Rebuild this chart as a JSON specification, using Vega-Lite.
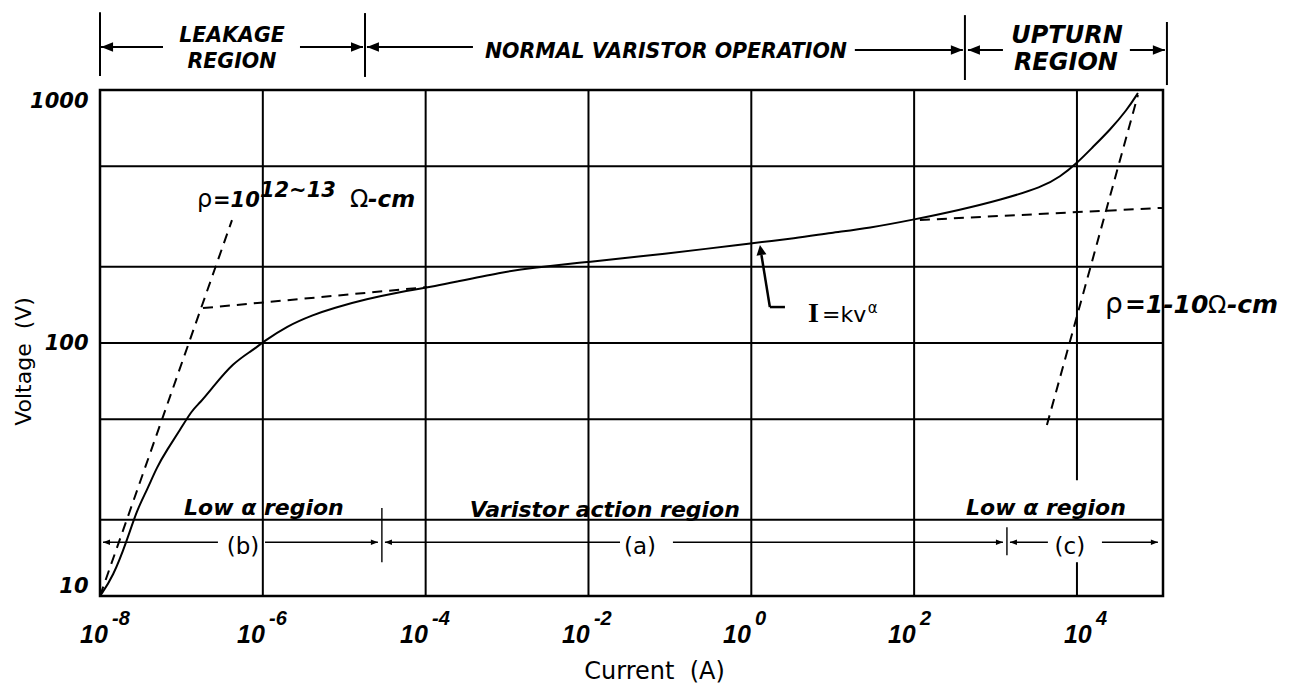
{
  "$schema": "https://vega.github.io/schema/vega-lite/v6.json",
  "width": 1063,
  "height": 506,
  "autosize": {"type": "none"},
  "padding": {"left": 100, "top": 90, "right": 140, "bottom": 88},
  "background": "white",
  "config": {
    "view": {"stroke": "black", "strokeWidth": 2.5},
    "mark": {"color": "black"},
    "font": "DejaVu Sans",
    "axis": {"grid": false, "ticks": false, "domain": false}
  },
  "datasets": {
    "curve": [
      {"I": 1e-8, "V": 10}, {"I": 1.445e-8, "V": 11.9}, {"I": 2.148e-8, "V": 16.6}, {"I": 2.844e-8, "V": 21.9},
      {"I": 3.776e-8, "V": 26.2}, {"I": 5.012e-8, "V": 32.4}, {"I": 6.653e-8, "V": 37.8}, {"I": 9.616e-8, "V": 45.3},
      {"I": 1.349e-7, "V": 54.3}, {"I": 1.69e-7, "V": 57.9}, {"I": 2.443e-7, "V": 67.0}, {"I": 4.295e-7, "V": 83.4},
      {"I": 7.568e-7, "V": 93.8}, {"I": 1.005e-6, "V": 100.9}, {"I": 1.982e-6, "V": 116.7},
      {"I": 4.13e-6, "V": 129.1}, {"I": 7.278e-6, "V": 137.4}, {"I": 1.901e-5, "V": 149.3}, {"I": 4.842e-5, "V": 159.1},
      {"I": 1.5e-4, "V": 169.4}, {"I": 1.991e-4, "V": 172.6}, {"I": 8.913e-4, "V": 190.9}, {"I": 1.91e-3, "V": 197.8},
      {"I": 9.057e-3, "V": 208.7}, {"I": 3.936e-2, "V": 218.8}, {"I": 0.338, "V": 237.3}, {"I": 0.836, "V": 246.1},
      {"I": 3.639, "V": 260.0}, {"I": 9.247, "V": 272.3}, {"I": 28.64, "V": 285.1}, {"I": 93.97, "V": 306.3},
      {"I": 365.6, "V": 335.8}, {"I": 1132, "V": 367.3}, {"I": 3819, "V": 414.2}, {"I": 6180, "V": 453.3},
      {"I": 10000, "V": 513.7}, {"I": 15700, "V": 595.6}, {"I": 25410, "V": 695.1}, {"I": 41110, "V": 833.5},
      {"I": 56100, "V": 973}
    ],
    "dashed": [
      {"seg": "A", "I": 1e-8, "V": 10}, {"seg": "A", "I": 4.18e-7, "V": 306},
      {"seg": "B", "I": 1.841e-7, "V": 137.4}, {"seg": "B", "I": 1.038e-4, "V": 166.3},
      {"seg": "C", "I": 117.8, "V": 306.3}, {"seg": "C", "I": 110700, "V": 342},
      {"seg": "D", "I": 4276, "V": 47.4}, {"seg": "D", "I": 56100, "V": 955}
    ],
    "gridV": [
      {"I": 1e-6, "v1": 10, "v2": 1000}, {"I": 1e-4, "v1": 10, "v2": 1000}, {"I": 0.01, "v1": 10, "v2": 1000},
      {"I": 1, "v1": 10, "v2": 1000}, {"I": 100, "v1": 10, "v2": 1000},
      {"I": 10000, "v1": 10, "v2": 13.6}, {"I": 10000, "v1": 28.7, "v2": 1000}
    ],
    "gridH": [{"V": 20}, {"V": 50}, {"V": 100}, {"V": 200}, {"V": 500}],
    "segTop": [
      {"I1": 1e-8, "I2": 5.94e-8, "V1": 1479, "V2": 1479},
      {"I1": 2.86e-6, "I2": 1.70e-5, "V1": 1479, "V2": 1479},
      {"I1": 1.90e-5, "I2": 3.81e-4, "V1": 1479, "V2": 1479},
      {"I1": 18.7, "I2": 397, "V1": 1439, "V2": 1439},
      {"I1": 458, "I2": 1233, "V1": 1439, "V2": 1439},
      {"I1": 44670, "I2": 120200, "V1": 1439, "V2": 1439},
      {"I1": 1e-8, "I2": 1e-8, "V1": 2031, "V2": 1136},
      {"I1": 1.80e-5, "I2": 1.80e-5, "V1": 2014, "V2": 1126},
      {"I1": 420.7, "I2": 420.7, "V1": 1977, "V2": 1095},
      {"I1": 127400, "I2": 127400, "V1": 1857, "V2": 1046}
    ],
    "headTop": [
      {"I": 1.03e-8, "V": 1479, "dir": "L"}, {"I": 1.70e-5, "V": 1479, "dir": "R"},
      {"I": 1.90e-5, "V": 1479, "dir": "L"}, {"I": 397, "V": 1439, "dir": "R"},
      {"I": 458, "V": 1439, "dir": "L"}, {"I": 120200, "V": 1439, "dir": "R"}
    ],
    "segBot": [
      {"I1": 1.089e-8, "I2": 2.81e-7, "V1": 16.3, "V2": 16.3},
      {"I1": 1.064e-6, "I2": 2.59e-5, "V1": 16.3, "V2": 16.3},
      {"I1": 3.16e-5, "I2": 0.0244, "V1": 16.3, "V2": 16.3},
      {"I1": 0.109, "I2": 1233, "V1": 16.3, "V2": 16.3},
      {"I1": 1503, "I2": 4397, "V1": 16.3, "V2": 16.3},
      {"I1": 20270, "I2": 98600, "V1": 16.3, "V2": 16.3},
      {"I1": 2.90e-5, "I2": 2.90e-5, "V1": 22.3, "V2": 13.6},
      {"I1": 1380, "I2": 1380, "V1": 18.7, "V2": 14.5}
    ],
    "headBot": [
      {"I": 1.089e-8, "V": 16.3, "dir": "L"}, {"I": 2.59e-5, "V": 16.3, "dir": "R"},
      {"I": 3.16e-5, "V": 16.3, "dir": "L"}, {"I": 1233, "V": 16.3, "dir": "R"},
      {"I": 1503, "V": 16.3, "dir": "L"}, {"I": 98600, "V": 16.3, "dir": "R"}
    ],
    "segKv": [
      {"I1": 2.59, "I2": 1.69, "V1": 138.7, "V2": 138.7},
      {"I1": 1.69, "I2": 1.332, "V1": 138.7, "V2": 222.8}
    ],
    "headKv": [{"I": 1.276, "V": 243.8, "dir": "U"}],
    "xticks": [
      {"lx": 5.68e-9, "e": "-8"}, {"lx": 4.82e-7, "e": "-6"}, {"lx": 4.84e-5, "e": "-4"},
      {"lx": 4.72e-3, "e": "-2"}, {"lx": 0.449, "e": "0"}, {"lx": 47.6, "e": "2"}, {"lx": 6918, "e": "4"}
    ],
    "topS": [
      {"t": "LEAKAGE", "I": 4.18e-7, "V": 1548},
      {"t": "REGION", "I": 4.18e-7, "V": 1222},
      {"t": "NORMAL VARISTOR OPERATION", "I": 0.0895, "V": 1338}
    ],
    "topL": [
      {"t": "UPTURN", "I": 7540, "V": 1535},
      {"t": "REGION", "I": 7313, "V": 1200}
    ],
    "regLab": [
      {"t": "Low α region", "I": 1.03e-6, "V": 20.9},
      {"t": "Varistor action region", "I": 0.0159, "V": 20.6},
      {"t": "Low α region", "I": 4160, "V": 20.9}
    ],
    "parenLab": [
      {"t": "(b)", "I": 5.70e-7, "V": 15.6},
      {"t": "(a)", "I": 0.0429, "V": 15.6},
      {"t": "(c)", "I": 8180, "V": 15.6}
    ],
    "fb21": [
      {"t": "=10", "I": 2.44e-7, "V": 344.8},
      {"t": "12~13", "I": 9.2e-7, "V": 377.6}
    ],
    "fb23": [{"t": "-cm", "I": 1.96e-5, "V": 344.8}],
    "fb25": [
      {"t": "=1-10", "I": 38810, "V": 131.6},
      {"t": "-cm", "I": 695000, "V": 131.6}
    ],
    "fn24": [
      {"t": "ρ", "I": 1.55e-7, "V": 344.8},
      {"t": "Ω", "I": 1.175e-5, "V": 344.8},
      {"t": "Ω", "I": 405700, "V": 131.6}
    ],
    "fn28": [{"t": "ρ", "I": 22030, "V": 131.6}],
    "fn22": [{"t": "=kv", "I": 7.38, "V": 121.1}],
    "fn15": [{"t": "α", "I": 27.0, "V": 131.6}],
    "fserif": [{"t": "I", "I": 4.97, "V": 121.1}]
  },
  "layer": [
    {
      "data": {"name": "curve"},
      "mark": {"type": "line", "strokeWidth": 2, "interpolate": "basis"},
      "encoding": {
        "x": {
          "field": "I", "type": "quantitative",
          "scale": {"type": "log", "domain": [1e-8, 114000], "nice": false},
          "axis": {
            "title": "Current\u00a0\u00a0(A)", "labels": false, "ticks": false, "domain": false, "grid": false,
            "titleFont": "DejaVu Sans", "titleFontSize": 24, "titleFontWeight": "normal", "titleColor": "black",
            "titleX": 554, "titleY": 82, "titleBaseline": "alphabetic", "titleAlign": "center"
          }
        },
        "y": {
          "field": "V", "type": "quantitative",
          "scale": {"type": "log", "domain": [10, 1000], "nice": false},
          "axis": {
            "title": "Voltage\u00a0\u00a0(V)", "values": [10, 100, 1000], "format": "d",
            "labelFont": "DejaVu Sans", "labelFontSize": 21, "labelFontWeight": "bold", "labelFontStyle": "italic",
            "labelColor": "black", "labelPadding": 12, "labelFlush": true,
            "ticks": false, "domain": false, "grid": false,
            "titleFont": "DejaVu Sans", "titleFontSize": 22, "titleFontWeight": "normal", "titleColor": "black",
            "titleX": -77, "titleY": 271, "titleAngle": 270, "titleAlign": "center", "titleBaseline": "middle"
          }
        }
      }
    },
    {
      "data": {"name": "gridV"},
      "mark": {"type": "rule", "strokeWidth": 2},
      "encoding": {
        "x": {"field": "I", "type": "quantitative", "scale": {"type": "log", "domain": [1e-8, 114000], "nice": false}},
        "y": {"field": "v1", "type": "quantitative", "scale": {"type": "log", "domain": [10, 1000], "nice": false}},
        "y2": {"field": "v2"}
      }
    },
    {
      "data": {"name": "gridH"},
      "mark": {"type": "rule", "strokeWidth": 2},
      "encoding": {
        "y": {"field": "V", "type": "quantitative", "scale": {"type": "log", "domain": [10, 1000], "nice": false}}
      }
    },
    {
      "data": {"name": "dashed"},
      "mark": {"type": "line", "strokeWidth": 2, "strokeDash": [10, 7]},
      "encoding": {
        "x": {"field": "I", "type": "quantitative", "scale": {"type": "log", "domain": [1e-8, 114000], "nice": false}},
        "y": {"field": "V", "type": "quantitative", "scale": {"type": "log", "domain": [10, 1000], "nice": false}},
        "detail": {"field": "seg"}
      }
    },
    {
      "data": {"name": "segTop"},
      "mark": {"type": "rule", "strokeWidth": 2},
      "encoding": {
        "x": {"field": "I1", "type": "quantitative", "scale": {"type": "log", "domain": [1e-8, 114000], "nice": false}},
        "x2": {"field": "I2"},
        "y": {"field": "V1", "type": "quantitative", "scale": {"type": "log", "domain": [10, 1000], "nice": false}},
        "y2": {"field": "V2"}
      }
    },
    {
      "data": {"name": "segBot"},
      "mark": {"type": "rule", "strokeWidth": 1.4},
      "encoding": {
        "x": {"field": "I1", "type": "quantitative", "scale": {"type": "log", "domain": [1e-8, 114000], "nice": false}},
        "x2": {"field": "I2"},
        "y": {"field": "V1", "type": "quantitative", "scale": {"type": "log", "domain": [10, 1000], "nice": false}},
        "y2": {"field": "V2"}
      }
    },
    {
      "data": {"name": "segKv"},
      "mark": {"type": "rule", "strokeWidth": 2.5},
      "encoding": {
        "x": {"field": "I1", "type": "quantitative", "scale": {"type": "log", "domain": [1e-8, 114000], "nice": false}},
        "x2": {"field": "I2"},
        "y": {"field": "V1", "type": "quantitative", "scale": {"type": "log", "domain": [10, 1000], "nice": false}},
        "y2": {"field": "V2"}
      }
    },
    {
      "data": {"name": "headTop"},
      "mark": {"type": "point", "filled": true, "strokeWidth": 0, "opacity": 1, "size": 576},
      "encoding": {
        "x": {"field": "I", "type": "quantitative", "scale": {"type": "log", "domain": [1e-8, 114000], "nice": false}},
        "y": {"field": "V", "type": "quantitative", "scale": {"type": "log", "domain": [10, 1000], "nice": false}},
        "shape": {"field": "dir", "type": "nominal", "scale": {"domain": ["L", "R", "U"], "range": ["M0,0L1,-0.4L1,0.4Z", "M0,0L-1,-0.4L-1,0.4Z", "M0,0L-0.5,1L0.5,1Z"]}, "legend": null}
      }
    },
    {
      "data": {"name": "headBot"},
      "mark": {"type": "point", "filled": true, "strokeWidth": 0, "opacity": 1, "size": 196},
      "encoding": {
        "x": {"field": "I", "type": "quantitative", "scale": {"type": "log", "domain": [1e-8, 114000], "nice": false}},
        "y": {"field": "V", "type": "quantitative", "scale": {"type": "log", "domain": [10, 1000], "nice": false}},
        "shape": {"field": "dir", "type": "nominal", "scale": {"domain": ["L", "R", "U"], "range": ["M0,0L1,-0.4L1,0.4Z", "M0,0L-1,-0.4L-1,0.4Z", "M0,0L-0.5,1L0.5,1Z"]}, "legend": null}
      }
    },
    {
      "data": {"name": "headKv"},
      "mark": {"type": "point", "filled": true, "strokeWidth": 0, "opacity": 1, "size": 400, "angle": -9},
      "encoding": {
        "x": {"field": "I", "type": "quantitative", "scale": {"type": "log", "domain": [1e-8, 114000], "nice": false}},
        "y": {"field": "V", "type": "quantitative", "scale": {"type": "log", "domain": [10, 1000], "nice": false}},
        "shape": {"field": "dir", "type": "nominal", "scale": {"domain": ["L", "R", "U"], "range": ["M0,0L1,-0.4L1,0.4Z", "M0,0L-1,-0.4L-1,0.4Z", "M0,0L-0.5,1L0.5,1Z"]}, "legend": null}
      }
    },
    {
      "data": {"name": "xticks"},
      "mark": {"type": "text", "font": "Liberation Sans", "fontWeight": "bold", "fontStyle": "italic", "fontSize": 25, "align": "left", "baseline": "alphabetic"},
      "encoding": {
        "x": {"field": "lx", "type": "quantitative", "scale": {"type": "log", "domain": [1e-8, 114000], "nice": false}},
        "y": {"datum": 6.52, "type": "quantitative", "scale": {"type": "log", "domain": [10, 1000], "nice": false}},
        "text": {"value": "10"}
      }
    },
    {
      "data": {"name": "xticks"},
      "mark": {"type": "text", "font": "Liberation Sans", "fontWeight": "bold", "fontStyle": "italic", "fontSize": 20, "align": "left", "baseline": "alphabetic", "dx": 32},
      "encoding": {
        "x": {"field": "lx", "type": "quantitative", "scale": {"type": "log", "domain": [1e-8, 114000], "nice": false}},
        "y": {"datum": 7.67, "type": "quantitative", "scale": {"type": "log", "domain": [10, 1000], "nice": false}},
        "text": {"field": "e"}
      }
    },
    {
      "data": {"name": "topS"},
      "mark": {"type": "text", "font": "DejaVu Sans", "fontWeight": "bold", "fontStyle": "italic", "fontSize": 20.5, "align": "center", "baseline": "alphabetic"},
      "encoding": {
        "x": {"field": "I", "type": "quantitative", "scale": {"type": "log", "domain": [1e-8, 114000], "nice": false}},
        "y": {"field": "V", "type": "quantitative", "scale": {"type": "log", "domain": [10, 1000], "nice": false}},
        "text": {"field": "t"}
      }
    },
    {
      "data": {"name": "topL"},
      "mark": {"type": "text", "font": "DejaVu Sans", "fontWeight": "bold", "fontStyle": "italic", "fontSize": 24, "align": "center", "baseline": "alphabetic"},
      "encoding": {
        "x": {"field": "I", "type": "quantitative", "scale": {"type": "log", "domain": [1e-8, 114000], "nice": false}},
        "y": {"field": "V", "type": "quantitative", "scale": {"type": "log", "domain": [10, 1000], "nice": false}},
        "text": {"field": "t"}
      }
    },
    {
      "data": {"name": "regLab"},
      "mark": {"type": "text", "font": "DejaVu Sans", "fontWeight": "bold", "fontStyle": "italic", "fontSize": 22, "align": "center", "baseline": "alphabetic"},
      "encoding": {
        "x": {"field": "I", "type": "quantitative", "scale": {"type": "log", "domain": [1e-8, 114000], "nice": false}},
        "y": {"field": "V", "type": "quantitative", "scale": {"type": "log", "domain": [10, 1000], "nice": false}},
        "text": {"field": "t"}
      }
    },
    {
      "data": {"name": "parenLab"},
      "mark": {"type": "text", "font": "DejaVu Sans", "fontSize": 23, "align": "center", "baseline": "middle"},
      "encoding": {
        "x": {"field": "I", "type": "quantitative", "scale": {"type": "log", "domain": [1e-8, 114000], "nice": false}},
        "y": {"field": "V", "type": "quantitative", "scale": {"type": "log", "domain": [10, 1000], "nice": false}},
        "text": {"field": "t"}
      }
    },
    {
      "data": {"name": "fb21"},
      "mark": {"type": "text", "font": "DejaVu Sans", "fontWeight": "bold", "fontStyle": "italic", "fontSize": 21, "align": "left", "baseline": "alphabetic"},
      "encoding": {
        "x": {"field": "I", "type": "quantitative", "scale": {"type": "log", "domain": [1e-8, 114000], "nice": false}},
        "y": {"field": "V", "type": "quantitative", "scale": {"type": "log", "domain": [10, 1000], "nice": false}},
        "text": {"field": "t"}
      }
    },
    {
      "data": {"name": "fb23"},
      "mark": {"type": "text", "font": "DejaVu Sans", "fontWeight": "bold", "fontStyle": "italic", "fontSize": 23, "align": "left", "baseline": "alphabetic"},
      "encoding": {
        "x": {"field": "I", "type": "quantitative", "scale": {"type": "log", "domain": [1e-8, 114000], "nice": false}},
        "y": {"field": "V", "type": "quantitative", "scale": {"type": "log", "domain": [10, 1000], "nice": false}},
        "text": {"field": "t"}
      }
    },
    {
      "data": {"name": "fb25"},
      "mark": {"type": "text", "font": "DejaVu Sans", "fontWeight": "bold", "fontStyle": "italic", "fontSize": 25, "align": "left", "baseline": "alphabetic"},
      "encoding": {
        "x": {"field": "I", "type": "quantitative", "scale": {"type": "log", "domain": [1e-8, 114000], "nice": false}},
        "y": {"field": "V", "type": "quantitative", "scale": {"type": "log", "domain": [10, 1000], "nice": false}},
        "text": {"field": "t"}
      }
    },
    {
      "data": {"name": "fn24"},
      "mark": {"type": "text", "font": "DejaVu Sans", "fontSize": 24, "align": "left", "baseline": "alphabetic"},
      "encoding": {
        "x": {"field": "I", "type": "quantitative", "scale": {"type": "log", "domain": [1e-8, 114000], "nice": false}},
        "y": {"field": "V", "type": "quantitative", "scale": {"type": "log", "domain": [10, 1000], "nice": false}},
        "text": {"field": "t"}
      }
    },
    {
      "data": {"name": "fn28"},
      "mark": {"type": "text", "font": "DejaVu Sans", "fontSize": 28, "align": "left", "baseline": "alphabetic"},
      "encoding": {
        "x": {"field": "I", "type": "quantitative", "scale": {"type": "log", "domain": [1e-8, 114000], "nice": false}},
        "y": {"field": "V", "type": "quantitative", "scale": {"type": "log", "domain": [10, 1000], "nice": false}},
        "text": {"field": "t"}
      }
    },
    {
      "data": {"name": "fn22"},
      "mark": {"type": "text", "font": "DejaVu Sans", "fontSize": 22, "align": "left", "baseline": "alphabetic"},
      "encoding": {
        "x": {"field": "I", "type": "quantitative", "scale": {"type": "log", "domain": [1e-8, 114000], "nice": false}},
        "y": {"field": "V", "type": "quantitative", "scale": {"type": "log", "domain": [10, 1000], "nice": false}},
        "text": {"field": "t"}
      }
    },
    {
      "data": {"name": "fn15"},
      "mark": {"type": "text", "font": "DejaVu Sans", "fontSize": 15, "align": "left", "baseline": "alphabetic"},
      "encoding": {
        "x": {"field": "I", "type": "quantitative", "scale": {"type": "log", "domain": [1e-8, 114000], "nice": false}},
        "y": {"field": "V", "type": "quantitative", "scale": {"type": "log", "domain": [10, 1000], "nice": false}},
        "text": {"field": "t"}
      }
    },
    {
      "data": {"name": "fserif"},
      "mark": {"type": "text", "font": "Liberation Serif", "fontWeight": "bold", "fontSize": 28, "align": "left", "baseline": "alphabetic"},
      "encoding": {
        "x": {"field": "I", "type": "quantitative", "scale": {"type": "log", "domain": [1e-8, 114000], "nice": false}},
        "y": {"field": "V", "type": "quantitative", "scale": {"type": "log", "domain": [10, 1000], "nice": false}},
        "text": {"field": "t"}
      }
    }
  ]
}
